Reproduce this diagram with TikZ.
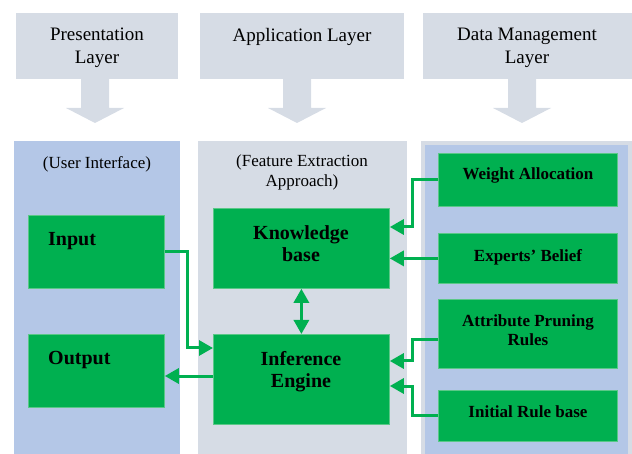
\documentclass[tikz,border=0pt]{standalone}
\usepackage{fontspec}
\setmainfont{Liberation Serif}
\usetikzlibrary{arrows.meta,positioning,calc}

\definecolor{layergray}{RGB}{214,220,229}
\definecolor{panelblue}{RGB}{180,199,231}
\definecolor{boxgreen}{RGB}{0,176,80}
\definecolor{edgegreen}{RGB}{90,200,135}

\begin{document}
\begin{tikzpicture}[x=1pt,y=-1pt,
  layerbox/.style={fill=layergray, anchor=north west, inner sep=0pt},
  gbox/.style={fill=boxgreen, draw=edgegreen, line width=0.8pt, anchor=north west, inner sep=0pt},
  layertxt/.style={anchor=north, inner sep=0pt, align=center, font=\fontsize{19}{23}\selectfont},
  subtxt/.style={anchor=north, inner sep=0pt, align=center, font=\fontsize{17}{20}\selectfont},
  apptxt/.style={anchor=north, inner sep=0pt, align=center, font=\fontsize{20}{22}\selectfont\bfseries},
  datatxt/.style={anchor=north, inner sep=0pt, align=center, font=\fontsize{17}{19}\selectfont\bfseries},
  conn/.style={draw=boxgreen, line width=3pt, -{Triangle[length=14pt,width=15pt]}}]
\useasboundingbox (0,0) rectangle (632,454);

% Layer headings
\node[layerbox, minimum width=162pt, minimum height=66pt] (pres) at (16,13) {};
\node[layerbox, minimum width=204pt, minimum height=66pt] (app) at (200,13) {};
\node[layerbox, minimum width=209pt, minimum height=66pt] (dm) at (423,13) {};
\node[layertxt] (pres-txt) at (97,28) {Presentation\\Layer};
\node[layertxt] (app-txt) at (302,28) {Application Layer};
\node[layertxt] (dm-txt) at (527,28) {Data Management\\Layer};

% Block arrows under headings
\foreach \cx in {95,297,522}
  \fill[layergray] (\cx-14,78) -- (\cx+14,78) -- (\cx+14,108) -- (\cx+29,108)
    -- (\cx,123) -- (\cx-29,108) -- (\cx-14,108) -- cycle;

% Layer panels
\fill[panelblue] (14,141) rectangle (180,454);
\fill[layergray] (198,141) rectangle (407,454);
\fill[layergray] (421,141) rectangle (632,454);
\fill[panelblue] (425,145) rectangle (628,454);

\node[subtxt] (ui-txt) at (97,156) {(User Interface)};
\node[subtxt] (fe-txt) at (302,155) {(Feature Extraction\\Approach)};

% Presentation layer
\node[gbox, minimum width=136pt, minimum height=73pt] (in) at (28,215) {};
\node[gbox, minimum width=136pt, minimum height=73pt] (out) at (28,334) {};
\node[apptxt, anchor=north west] (in-txt) at (48,232) {Input};
\node[apptxt, anchor=north west] (out-txt) at (48,351) {Output};

% Application layer
\node[gbox, minimum width=176pt, minimum height=80pt] (kb) at (213,208) {};
\node[gbox, minimum width=176pt, minimum height=90pt] (ie) at (213,334) {};
\node[apptxt] (kb-txt) at (301,225) {Knowledge\\base};
\node[apptxt] (ie-txt) at (301,351) {Inference\\Engine};

% Data management layer
\node[gbox, minimum width=179pt, minimum height=53pt] (wa) at (438,153) {};
\node[gbox, minimum width=179pt, minimum height=50pt] (eb) at (438,233) {};
\node[gbox, minimum width=179pt, minimum height=69pt] (ap) at (438,299) {};
\node[gbox, minimum width=179pt, minimum height=51pt] (ir) at (438,390) {};
\node[datatxt] (wa-txt) at (528,168) {Weight Allocation};
\node[datatxt] (eb-txt) at (528,249) {Experts’ Belief};
\node[datatxt] (ap-txt) at (528,315) {Attribute Pruning\\Rules};
\node[datatxt] (ir-txt) at (528,406) {Initial Rule base};

% Connectors
\draw[conn] (in.east) -- ++(23,0) |- ($(ie.north west)+(0,14)$);
\draw[conn] ($(ie.north west)+(0,42)$) -- ($(out.north east)+(0,42)$);
\draw[conn, {Triangle[length=14pt,width=15pt]}-{Triangle[length=14pt,width=15pt]}] (kb.south) -- (ie.north);
\draw[conn] (wa.west) -- ++(-26,0) |- ($(kb.north east)+(0,19)$);
\draw[conn] (eb.west) -- (eb.west -| kb.east);
\draw[conn] ($(ap.north west)+(0,41)$) -- ++(-26,0) |- ($(ie.north east)+(0,27)$);
\draw[conn] (ir.west) -- ++(-26,0) |- ($(ie.north east)+(0,52)$);

\end{tikzpicture}
\end{document}
